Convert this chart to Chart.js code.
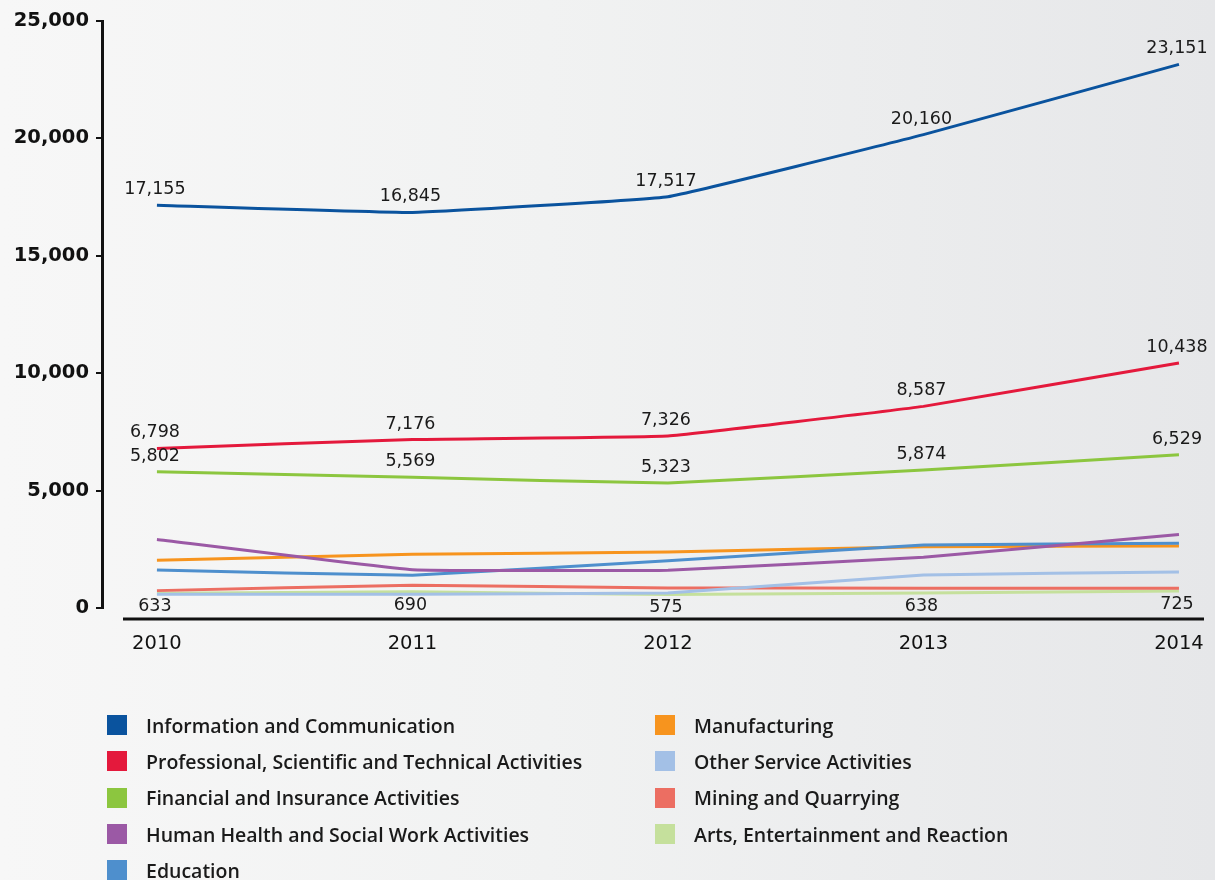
<!DOCTYPE html>
<html>
<head>
<meta charset="utf-8">
<script src="https://cdn.jsdelivr.net/npm/chart.js@4.4.1/dist/chart.umd.min.js"></script>
<style>
  html, body { margin: 0; padding: 0; }
  body {
    width: 1215px; height: 880px; overflow: hidden; position: relative;
    background: linear-gradient(to right, #f7f7f7 0%, #f1f2f2 45%, #e6e7e9 100%);
  }
  #chart { position: absolute; left: 0; top: 0; }
  #legend { position: absolute; left: 0; top: 0; width: 1215px; height: 880px; pointer-events: none; }
  .col { position: absolute; top: 707px; }
  .item { height: 36.3px; display: flex; align-items: center; }
  .swatch { width: 20px; height: 20px; flex: none; }
  .name {
    margin-left: 19px; font-family: "Open Sans", sans-serif; font-weight: 600;
    font-size: 19.5px; color: #1a1a1a; white-space: nowrap;
  }
</style>
</head>
<body>
<canvas id="chart" width="1215" height="690"></canvas>
<div id="legend"><div class="col" id="colA" style="left:107px"></div><div class="col" id="colB" style="left:655px"></div></div>
<script>
// Employment by sector, 2010-2014
const years = [2010, 2011, 2012, 2013, 2014];
const yearLabels = ['2010', '2011', '2012', '2013', '2014'];
const yTickValues = [0, 5000, 10000, 15000, 20000, 25000];

const seriesNames = [
  'Information and Communication',
  'Professional, Scientific and Technical Activities',
  'Financial and Insurance Activities',
  'Human Health and Social Work Activities',
  'Education',
  'Manufacturing',
  'Other Service Activities',
  'Mining and Quarrying',
  'Arts, Entertainment and Reaction'
];
const seriesColors = [
  '#0a539e', '#e4193c', '#8cc63f', '#9b59a5', '#4e8fcd',
  '#f7941e', '#a3c0e6', '#ec6e62', '#c5e09c'
];

const infoComm      = [17155, 16845, 17517, 20160, 23151];
const professional  = [6798, 7176, 7326, 8587, 10438];
const financial     = [5802, 5569, 5323, 5874, 6529];
const humanHealth   = [2920, 1630, 1610, 2160, 3135];
const education     = [1620, 1395, 2015, 2680, 2755];
const manufacturing = [2030, 2285, 2385, 2610, 2640];
const otherService  = [590, 590, 640, 1410, 1535];
const mining        = [740, 970, 855, 845, 845];
const arts          = [633, 690, 575, 638, 725];

const seriesValues = [infoComm, professional, financial, humanHealth, education,
                      manufacturing, otherService, mining, arts];
// which series carry printed values, and on which side of the line
const labelSide = ['above', 'above', 'above', null, null, null, null, null, 'below'];

const fmt = v => v.toLocaleString('en-US');
const NUM_FONT = '"DejaVu Sans", sans-serif';

const datasets = seriesValues.map((vals, i) => ({
  label: seriesNames[i],
  data: years.map((x, j) => ({ x, y: vals[j] })),
  borderColor: seriesColors[i],
  backgroundColor: seriesColors[i],
  borderWidth: 3,
  pointRadius: 0,
  tension: 0.08,
  fill: false,
  valueSide: labelSide[i]
}));

// printed values next to the points
const valueLabels = {
  id: 'valueLabels',
  afterDatasetsDraw(chart) {
    const ctx = chart.ctx;
    ctx.save();
    ctx.font = '17.5px ' + NUM_FONT;
    ctx.fillStyle = '#1a1a1a';
    ctx.textAlign = 'center';
    ctx.textBaseline = 'alphabetic';
    chart.data.datasets.forEach((ds, i) => {
      if (!ds.valueSide) return;
      const meta = chart.getDatasetMeta(i);
      meta.data.forEach((pt, j) => {
        const y = ds.valueSide === 'above' ? pt.y - 11 : pt.y + 18;
        ctx.fillText(fmt(ds.data[j].y), pt.x - 2, y);
      });
    });
    ctx.restore();
  }
};

// detached horizontal base line under the plot
const baseLine = {
  id: 'baseLine',
  afterDraw(chart) {
    const { ctx, chartArea, scales } = chart;
    const y = scales.y.getPixelForValue(0) + 11;
    ctx.save();
    ctx.strokeStyle = '#111';
    ctx.lineWidth = 3;
    ctx.beginPath();
    ctx.moveTo(chartArea.left + 21, y);
    ctx.lineTo(chartArea.right, y);
    ctx.stroke();
    ctx.restore();
  }
};

new Chart(document.getElementById('chart'), {
  type: 'line',
  data: { datasets },
  plugins: [valueLabels, baseLine],
  options: {
    responsive: false,
    animation: false,
    devicePixelRatio: 1,
    layout: { padding: { top: 21, right: 11, bottom: 0, left: 0 } },
    plugins: { legend: { display: false }, tooltip: { enabled: false } },
    scales: {
      x: {
        type: 'linear',
        min: 2009.785,
        max: 2014.098,
        afterBuildTicks: s => { s.ticks = years.map(v => ({ value: v })); },
        afterFit: s => { s.height = 82; s.paddingLeft = 0; s.paddingRight = 0; },
        ticks: {
          callback: v => yearLabels[years.indexOf(v)],
          font: { family: NUM_FONT, size: 19.5 },
          color: '#111',
          padding: 24,
          maxRotation: 0,
          autoSkip: false
        },
        grid: { display: false, drawTicks: false },
        border: { display: false }
      },
      y: {
        min: 0,
        max: 25000,
        afterBuildTicks: s => { s.ticks = yTickValues.map(v => ({ value: v })); },
        afterFit: s => { s.width = 102; },
        ticks: {
          callback: v => fmt(v),
          font: { family: NUM_FONT, size: 19.5, weight: 'bold' },
          color: '#111',
          padding: 7
        },
        grid: { drawOnChartArea: false, drawTicks: true, tickLength: 6, color: '#111', lineWidth: 2 },
        border: { display: true, color: '#111', width: 3 }
      }
    }
  }
});

// two-column legend: first five series left, the rest right
const colA = document.getElementById('colA');
const colB = document.getElementById('colB');
seriesNames.forEach((name, i) => {
  const item = document.createElement('div');
  item.className = 'item';
  const sw = document.createElement('div');
  sw.className = 'swatch';
  sw.style.background = seriesColors[i];
  const tx = document.createElement('div');
  tx.className = 'name';
  tx.textContent = name;
  item.appendChild(sw);
  item.appendChild(tx);
  (i < 5 ? colA : colB).appendChild(item);
});
</script>
</body>
</html>
